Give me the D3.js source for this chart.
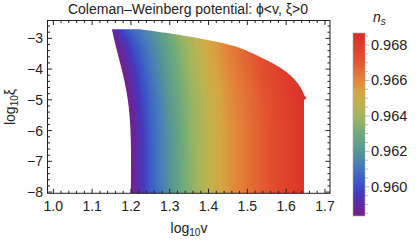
<!DOCTYPE html>
<html><head><meta charset="utf-8">
<script src="https://cdn.jsdelivr.net/npm/d3@7"></script>
<style>body{margin:0;background:#fff}svg{display:block}text{font-family:"Liberation Sans",Arial,sans-serif}</style>
</head><body><svg id="c" width="418" height="244"></svg>
<script>
const title = "Coleman–Weinberg potential: ϕ<v, ξ>0";
const xTicks = [1.0, 1.1, 1.2, 1.3, 1.4, 1.5, 1.6, 1.7];
const xTickLabels = ["1.0", "1.1", "1.2", "1.3", "1.4", "1.5", "1.6", "1.7"];
const yTicks = [-8, -7, -6, -5, -4, -3];
const yTickLabels = ["−8", "−7", "−6", "−5", "−4", "−3"];
const cbTicks = [0.960, 0.962, 0.964, 0.966, 0.968];
const cbTickLabels = ["0.960", "0.962", "0.964", "0.966", "0.968"];

// boundary of the allowed region (log10 v, log10 xi)
const leftEdge = [[1.200,-8.06],[1.200,-6.5],[1.198,-5.8],[1.194,-5.2],[1.188,-4.7],[1.180,-4.2],[1.170,-3.7],[1.160,-3.2],[1.151,-2.707]];
const topEdge = [[1.224,-2.707],[1.327,-2.893],[1.378,-3.007],[1.430,-3.137],[1.481,-3.316],[1.533,-3.609],[1.584,-3.951],[1.618,-4.293],[1.638,-4.619],[1.648,-4.879],[1.652,-4.945],[1.648,-4.993]];
const rightEdge = [[1.646,-5.0],[1.646,-8.06]];

// n_s on a coarse grid
const gridLogV = [1.14, 1.16, 1.18, 1.20, 1.22, 1.25, 1.30, 1.35, 1.40, 1.45, 1.50, 1.55, 1.60, 1.65, 1.70];
const gridLogXi = [-8.06, -6.0, -5.0, -4.0, -3.3, -2.7];
const nsRowM806 = [0.9584,0.9584,0.9584,0.9585,0.9591,0.9603,0.9619,0.9634,0.9647,0.9657,0.9664,0.9671,0.9678,0.9684,0.9688];
const nsRowM60  = [0.9584,0.9584,0.9584,0.9585,0.9592,0.9604,0.9620,0.9635,0.9647,0.9657,0.9664,0.9671,0.9678,0.9684,0.9688];
const nsRowM50  = [0.9584,0.9584,0.9584,0.9587,0.9595,0.9606,0.9622,0.9636,0.9648,0.9658,0.9665,0.9672,0.9679,0.9685,0.9688];
const nsRowM40  = [0.9584,0.9584,0.9585,0.9592,0.9600,0.9610,0.9625,0.9639,0.9651,0.9660,0.9667,0.9674,0.9681,0.9686,0.9688];
const nsRowM33  = [0.9584,0.9585,0.9590,0.9598,0.9605,0.9613,0.9627,0.9641,0.9653,0.9661,0.9668,0.9675,0.9682,0.9686,0.9688];
const nsRowM27  = [0.9586,0.9591,0.9600,0.9606,0.9611,0.9618,0.9631,0.9644,0.9655,0.9663,0.9670,0.9677,0.9683,0.9687,0.9688];
const nsGrid = [nsRowM806, nsRowM60, nsRowM50, nsRowM40, nsRowM33, nsRowM27];

// colour scheme (rainbow) sampled from the legend
const colorStops = [0.9584, 0.9590, 0.9596, 0.9603, 0.9612, 0.9620, 0.9630, 0.9638, 0.9646, 0.9654, 0.9661, 0.9672, 0.9687];
const colorHex = ["#7a1e88","#5e2aa6","#4538bd","#3c58c8","#467cbb","#559696","#70aa7a","#98b464","#bcb450","#d6a541","#e4823a","#e2502e","#db2b28"];
const cbDomain = [0.95835, 0.96868];

const svg = d3.select("#c");
svg.append("rect").attr("width",418).attr("height",244).attr("fill","#fff");

const x = d3.scaleLinear().domain([0.985, 1.713]).range([47.5, 330]);
const y = d3.scaleLinear().domain([-8.04, -2.42]).range([193.3, 20.5]);
const color = d3.scaleLinear().domain(colorStops).range(colorHex).interpolate(d3.interpolateRgb).clamp(true);

function nsAt(v, xi) {
  let i = Math.max(0, Math.min(gridLogV.length - 2, d3.bisectRight(gridLogV, v) - 1));
  let j = Math.max(0, Math.min(gridLogXi.length - 2, d3.bisectRight(gridLogXi, xi) - 1));
  let tx = Math.max(0, Math.min(1, (v - gridLogV[i]) / (gridLogV[i+1] - gridLogV[i])));
  let ty = Math.max(0, Math.min(1, (xi - gridLogXi[j]) / (gridLogXi[j+1] - gridLogXi[j])));
  const a = nsGrid[j][i] * (1 - tx) + nsGrid[j][i+1] * tx;
  const b = nsGrid[j+1][i] * (1 - tx) + nsGrid[j+1][i+1] * tx;
  return a * (1 - ty) + b * ty;
}

// region outline
const lineSmooth = d3.line().x(d => x(d[0])).y(d => y(d[1])).curve(d3.curveCatmullRom);
const pLeft = lineSmooth(leftEdge);
const pTop = lineSmooth(topEdge).replace(/^M/, "L");
const pRight = rightEdge.map(d => "L" + x(d[0]) + "," + y(d[1])).join("");
const regionPath = pLeft + pTop + pRight + "Z";

const defs = svg.append("defs");
defs.append("clipPath").attr("id","reg").append("path").attr("d", regionPath);
defs.append("clipPath").attr("id","plot").append("rect")
  .attr("x", 47.5).attr("y", 20.5).attr("width", 282.5).attr("height", 172.8);

const cells = [];
const px0 = Math.floor(x(1.14)), px1 = Math.ceil(x(1.66));
for (let py = 20; py < 194; py += 2) {
  for (let px = px0; px < px1; px += 1) {
    cells.push({px, py, ns: nsAt(x.invert(px + 0.5), y.invert(py + 1))});
  }
}
svg.append("g").attr("clip-path","url(#plot)")
  .append("g").attr("clip-path","url(#reg)")
  .selectAll("rect").data(cells).join("rect")
  .attr("x", d => d.px).attr("y", d => d.py).attr("width", 1.05).attr("height", 2.05)
  .attr("fill", d => color(d.ns)).attr("shape-rendering","crispEdges");

// frame + ticks
const fc = "#222";
const g = svg.append("g").attr("stroke", fc).attr("stroke-width", 1).attr("fill","none");
g.append("rect").attr("x", 47.5).attr("y", 20.5).attr("width", 282.5).attr("height", 172.8);
const xMinor = d3.range(0, 36).map(k => 1.0 + k * 0.02).filter(v => Math.abs(v*10 - Math.round(v*10)) > 1e-6);
const yMinor = d3.range(-40, -11).map(k => k * 0.2).filter(v => v > -8.04 && v < -2.42 && Math.abs(v - Math.round(v)) > 1e-6);
const Y0 = 193.3, Y1 = 20.5, X0 = 47.5, X1 = 330;
xTicks.forEach(v => {
  g.append("line").attr("x1", x(v)).attr("x2", x(v)).attr("y1", Y0).attr("y2", Y0 - 4.5);
  g.append("line").attr("x1", x(v)).attr("x2", x(v)).attr("y1", Y1).attr("y2", Y1 + 4.5);
});
xMinor.forEach(v => {
  g.append("line").attr("x1", x(v)).attr("x2", x(v)).attr("y1", Y0).attr("y2", Y0 - 2.5);
  g.append("line").attr("x1", x(v)).attr("x2", x(v)).attr("y1", Y1).attr("y2", Y1 + 2.5);
});
yTicks.forEach(v => {
  g.append("line").attr("y1", y(v)).attr("y2", y(v)).attr("x1", X0).attr("x2", X0 + 4.5);
  g.append("line").attr("y1", y(v)).attr("y2", y(v)).attr("x1", X1).attr("x2", X1 - 4.5);
});
yMinor.forEach(v => {
  g.append("line").attr("y1", y(v)).attr("y2", y(v)).attr("x1", X0).attr("x2", X0 + 2.5);
  g.append("line").attr("y1", y(v)).attr("y2", y(v)).attr("x1", X1).attr("x2", X1 - 2.5);
});

const tc = "#222";
svg.append("g").selectAll("text").data(xTicks).join("text")
  .attr("x", d => x(d)).attr("y", 211).attr("text-anchor","middle")
  .attr("font-size", 14).attr("fill", tc).text((d,i) => xTickLabels[i]);
svg.append("g").selectAll("text").data(yTicks).join("text")
  .attr("x", 43).attr("y", d => y(d) + 5).attr("text-anchor","end")
  .attr("font-size", 14).attr("fill", tc).text((d,i) => yTickLabels[i]);

// title
svg.append("text").attr("x", 188).attr("y", 14).attr("text-anchor","middle")
  .attr("font-size", 14).attr("fill", "#222").text(title);

// axis labels
const xl = svg.append("text").attr("x", 189).attr("y", 233).attr("text-anchor","middle")
  .attr("font-size", 14).attr("fill", "#222");
xl.append("tspan").text("log");
xl.append("tspan").attr("dy", 3).attr("font-size", 10).text("10");
xl.append("tspan").attr("dy", -3).text("v");
const yl = svg.append("text").attr("transform","translate(15,107) rotate(-90)").attr("text-anchor","middle")
  .attr("font-size", 14).attr("fill", "#222");
yl.append("tspan").text("log");
yl.append("tspan").attr("dy", 3).attr("font-size", 10).text("10");
yl.append("tspan").attr("dy", -3).text("ξ");

// colour bar
const cb = d3.scaleLinear().domain(cbDomain).range([216, 33]);
const cbRows = d3.range(33, 216);
svg.append("g").selectAll("rect").data(cbRows).join("rect")
  .attr("x", 353).attr("y", d => d).attr("width", 12).attr("height", 1.05)
  .attr("fill", d => color(cb.invert(d + 0.5))).attr("shape-rendering","crispEdges");
svg.append("rect").attr("x", 353).attr("y", 33).attr("width", 12).attr("height", 183)
  .attr("fill","none").attr("stroke","#aaa").attr("stroke-width", 0.6);
const cbMinor = d3.range(0, 22).map(k => 0.9585 + k * 0.0005).filter(v => v < cbDomain[1]);
svg.append("g").attr("stroke","#aaa").attr("stroke-width",0.8).selectAll("line").data(cbMinor).join("line")
  .attr("x1", 365).attr("x2", d => cbTicks.some(t => Math.abs(t - d) < 1e-7) ? 369.5 : 368)
  .attr("y1", d => cb(d)).attr("y2", d => cb(d));
svg.append("g").selectAll("text").data(cbTicks).join("text")
  .attr("x", 371).attr("y", d => cb(d) + 5).attr("font-size", 14.5).attr("fill", "#222")
  .text((d,i) => cbTickLabels[i]);
const nl = svg.append("text").attr("x", 373).attr("y", 22).attr("font-size", 14).attr("fill","#222").attr("font-style","italic");
nl.append("tspan").text("n");
nl.append("tspan").attr("dy", 3).attr("font-size", 10).text("s");
</script></body></html>
